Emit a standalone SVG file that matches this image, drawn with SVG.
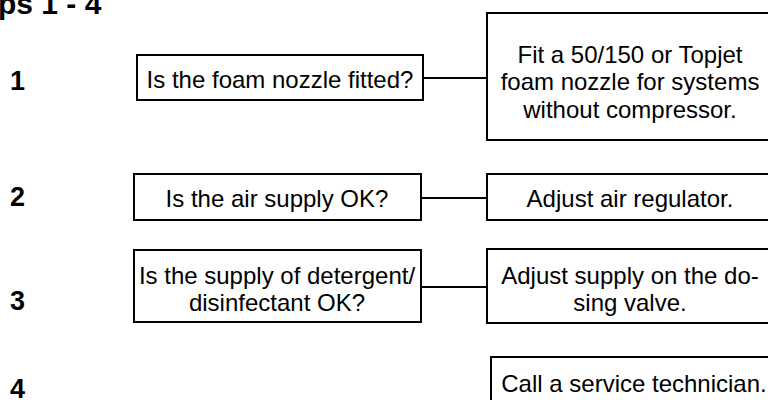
<svg xmlns="http://www.w3.org/2000/svg" width="768" height="400" viewBox="0 0 768 400">
<style>
.box{fill:#fff;stroke:#000;stroke-width:2}
.t{font-family:"Liberation Sans",Arial,Helvetica,sans-serif;font-size:24px;fill:#000;text-anchor:middle}
.n{font-family:"Liberation Sans",Arial,Helvetica,sans-serif;font-size:27px;font-weight:bold;fill:#000}
.h{font-family:"Liberation Sans",Arial,Helvetica,sans-serif;font-size:30px;font-weight:bold;fill:#000}
.c{stroke:#000;stroke-width:2;fill:none}
</style>
<rect width="768" height="400" fill="#fff"/>
<text class="h" x="-2" y="14">ps 1 - 4</text>
<g id="step-numbers">
<text class="n" x="10" y="90">1</text>
<text class="n" x="10" y="206">2</text>
<text class="n" x="10" y="310">3</text>
<text class="n" x="10" y="398">4</text>
</g>
<g id="connectors">
<line class="c" x1="423" y1="78" x2="487" y2="78"/>
<line class="c" x1="421" y1="198" x2="487" y2="198"/>
<line class="c" x1="421" y1="287" x2="487" y2="287"/>
</g>
<g id="q1">
<rect class="box" x="137" y="55" width="286" height="45"/>
<text class="t" x="280" y="88">Is the foam nozzle fitted?</text>
</g>
<g id="a1">
<rect class="box" x="487" y="13" width="290" height="127"/>
<text class="t" x="630" y="63">Fit a 50/150 or Topjet</text>
<text class="t" x="630" y="90">foam nozzle for systems</text>
<text class="t" x="630" y="118">without compressor.</text>
</g>
<g id="q2">
<rect class="box" x="134" y="174" width="287" height="46"/>
<text class="t" x="277" y="207">Is the air supply OK?</text>
</g>
<g id="a2">
<rect class="box" x="487" y="174" width="290" height="46"/>
<text class="t" x="630" y="207">Adjust air regulator.</text>
</g>
<g id="q3">
<rect class="box" x="134" y="250" width="287" height="72"/>
<text class="t" x="277" y="284">Is the supply of detergent/</text>
<text class="t" x="277" y="311">disinfectant OK?</text>
</g>
<g id="a3">
<rect class="box" x="487" y="249" width="290" height="74"/>
<text class="t" x="630" y="284">Adjust supply on the do-</text>
<text class="t" x="630" y="311">sing valve.</text>
</g>
<g id="a4">
<rect class="box" x="491" y="357" width="290" height="60"/>
<text class="t" x="634" y="392">Call a service technician.</text>
</g>
</svg>
